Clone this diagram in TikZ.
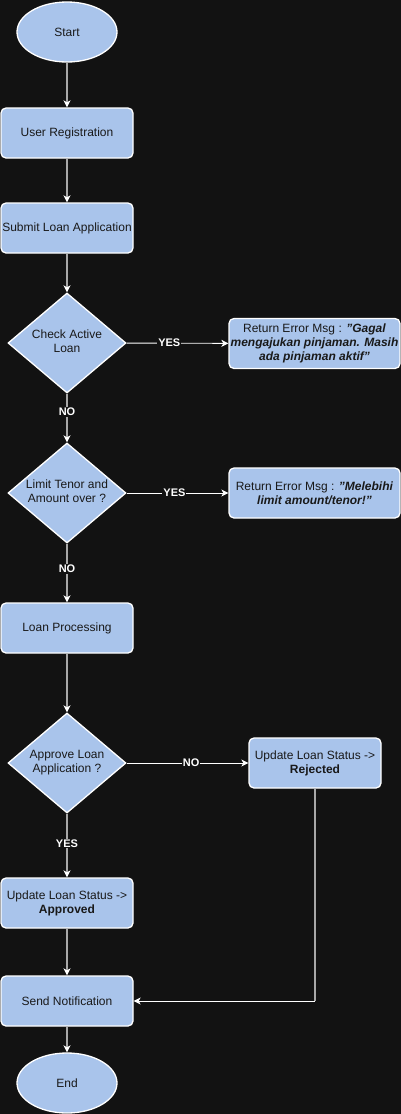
\documentclass[tikz,border=0pt]{standalone}
\usepackage{fontspec}
\setmainfont{Liberation Sans}
\usepackage{xcolor}
\usetikzlibrary{shapes.geometric, arrows.meta}

\definecolor{bgdark}{HTML}{121212}
\definecolor{boxblue}{HTML}{A9C4EB}
\definecolor{linegray}{HTML}{A8A8A8}

% text of a decision, allowed to spill over the diamond's box
\newcommand{\dtext}[1]{\makebox[30pt][c]{\begin{tabular}{@{}c@{}}#1\end{tabular}}}

\tikzset{
	base/.style={draw=white, line width=1.3pt, fill=boxblue, text=black!90, font=\fontsize{12}{14}\selectfont, align=center},
	terminal/.style={base, ellipse, minimum width=100pt, minimum height=60pt, inner sep=0pt},
	process/.style={base, rectangle, rounded corners=5pt, minimum width=132pt, minimum height=50pt, inner sep=0pt},
	decision/.style={base, diamond, minimum width=118pt, minimum height=100pt, inner sep=0pt},
	errbox/.style={process, minimum width=171pt},
	tip/.style={-{Stealth[white, length=7pt, width=7pt, inset=2pt]}},
	downflow/.style={draw=linegray, line width=1.5pt, tip},
	sideflow/.style={draw=white, line width=0.9pt, tip},
	answer/.style={fill=bgdark, text=white, font=\fontsize{11}{12}\selectfont\bfseries, inner sep=1pt},
}

\begin{document}
\begin{tikzpicture}[x=1pt, y=-1pt]
		%canvas
		\useasboundingbox (0,0) rectangle (401,1114);
		\fill [bgdark] (0,0) rectangle (401,1114);
		
		%main column
		\node [terminal] (start) at (67,32) {Start};
		\node [process] (register) at (67,133) {User Registration};
		\node [process] (submit) at (67,228) {Submit Loan Application};
		\node [decision] (active) at (67,343) {\dtext{Check Active\\Loan}};
		\node [decision] (limit) at (67,493) {\dtext{Limit Tenor and\\Amount over ?}};
		\node [process] (processing) at (67,628) {Loan Processing};
		\node [decision] (approve) at (67,763) {\dtext{Approve Loan\\Application ?}};
		\node [process] (approved) at (67,903) {Update Loan Status ->\\\textbf{Approved}};
		\node [process] (notify) at (67,1001) {Send Notification};
		\node [terminal] (finish) at (67,1083) {End};
		
		%side column
		\node [errbox] (activeerr) at (314.5,343.5) {Return Error Msg : \textbf{\textit{"Gagal}}\\\makebox[168pt]{\textbf{\textit{mengajukan pinjaman. Masih}}}\\\textbf{\textit{ada pinjaman aktif"}}};
		\node [errbox] (limiterr) at (314.5,493) {Return Error Msg : \textbf{\textit{"Melebihi}}\\\textbf{\textit{limit amount/tenor!"}}};
		\node [process] (rejected) at (315,763) {Update Loan Status ->\\\textbf{Rejected}};
		
		\coordinate (turn) at (rejected.south |- notify.east);
		
		%vertical flow
		\draw [downflow] (start) -- (register);
		\draw [downflow] (register) -- (submit);
		\draw [downflow] (submit) -- (active);
		\draw [downflow] (active) -- node [answer, pos=0.38] {NO} (limit);
		\draw [downflow] (limit) -- node [answer, pos=0.43] {NO} (processing);
		\draw [downflow] (processing) -- (approve);
		\draw [downflow] (approve) -- node [answer, pos=0.47] {YES} (approved);
		\draw [downflow] (approved) -- (notify);
		\draw [downflow] (notify) -- (finish);
		
		%branches
		\draw [sideflow] (active) -- node [answer, pos=0.42] {YES} (activeerr);
		\draw [sideflow] (limit) -- node [answer, pos=0.47] {YES} (limiterr);
		\draw [sideflow] (approve) -- node [answer, pos=0.53] {NO} (rejected);
		\draw [draw=linegray, line width=1.5pt] (rejected) -- (turn);
		\draw [sideflow] (turn) -- (notify);

	\end{tikzpicture}
\end{document}
